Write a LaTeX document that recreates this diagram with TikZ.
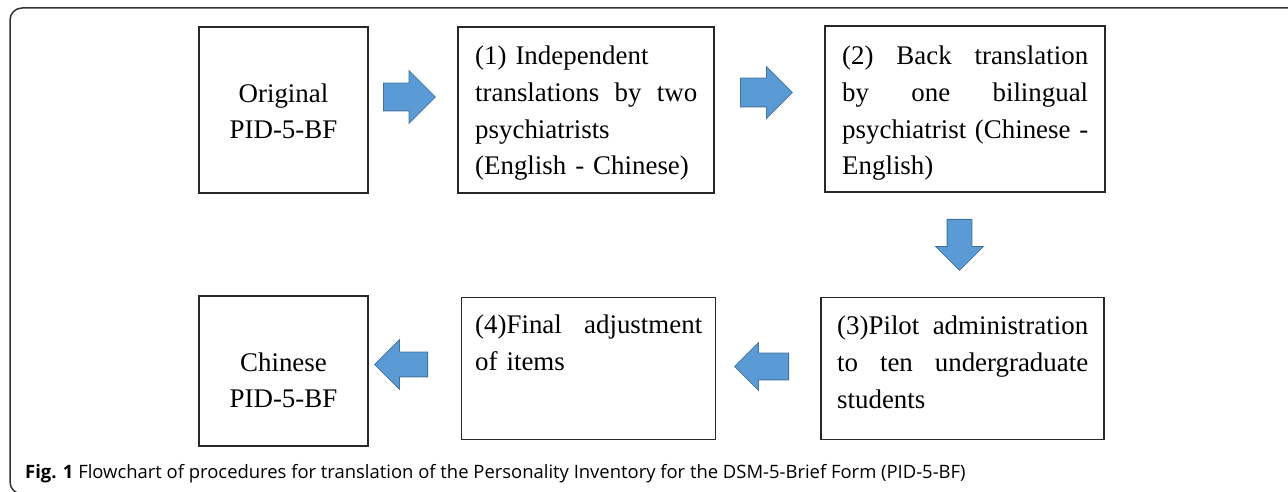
\documentclass[tikz,border=0pt]{standalone}
\usepackage{fontspec}
\setmainfont{Liberation Serif}
\newfontfamily\capfont{Open Sans}
\usetikzlibrary{shapes.arrows}
\definecolor{arrowfill}{RGB}{91,155,213}
\definecolor{arrowline}{RGB}{65,113,156}
\definecolor{boxline}{RGB}{40,40,40}
\definecolor{frameline}{RGB}{50,50,50}
\tikzset{
  box/.style={draw=boxline, line width=1.3bp, inner sep=0pt, rectangle},
  txt/.style={inner sep=0pt, font=\fontsize{27}{36.8}\selectfont, align=left},
  ctxt/.style={inner sep=0pt, font=\fontsize{27}{35.5}\selectfont, align=center, text width=169bp},
  barrow/.style={shape=single arrow, draw=arrowline, fill=arrowfill, line width=0.8bp, inner xsep=0pt, single arrow head indent=0pt, anchor=tail}
}
\tikzset{frame/.style={draw=frameline, line width=1.5bp, rounded corners=12bp}}
\newcommand{\jl}[2]{{\spaceskip=0pt\xspaceskip=0pt\makebox[#1][s]{#2}}}
\begin{document}
\begin{tikzpicture}[x=1bp,y=-1bp]
\useasboundingbox (0,0) rectangle (1288,492);
\clip (0,0) rectangle (1288,492);
\coordinate (fa) at (1300,8);
\coordinate (fb) at (10,8);
\coordinate (fc) at (10,494);
\coordinate (fd) at (1300,494);
\draw[frame] (fa) -- (fb) -- (fc) -- (fd);

% boxes
\node[box, minimum width=169bp, minimum height=166bp] (orig) at (283.5,110) {};
\node[box, minimum width=256bp, minimum height=166bp] (s1) at (586,110) {};
\node[box, minimum width=280bp, minimum height=166bp] (s2) at (965,109) {};
\node[box, minimum width=283bp, minimum height=142bp] (s3) at (962.5,368.5) {};
\node[box, minimum width=254bp, minimum height=142bp] (s4) at (588.5,368.5) {};
\node[box, minimum width=169bp, minimum height=150bp] (chin) at (283.5,371) {};

% texts
\node[ctxt, anchor=base] (torig) at (283.5,103) {Original\\PID-5-BF};
\node[txt, anchor=base west, text width=222bp] (ts1) at (475,65)
  {(1) Independent\\\jl{222bp}{translations by two}\\psychiatrists\\(English - Chinese)};
\node[txt, anchor=base west, text width=246bp] (ts2) at (842,65)
  {\jl{246bp}{(2) Back translation}\\\jl{246bp}{by one bilingual}\\\jl{246bp}{psychiatrist (Chinese -}\\English)};
\node[txt, anchor=base west, text width=251bp] (ts3) at (837,335)
  {\jl{251bp}{(3)Pilot administration}\\\jl{251bp}{to ten undergraduate}\\students};
\node[txt, anchor=base west, text width=227bp] (ts4) at (475,334)
  {\jl{227bp}{(4)Final adjustment}\\of items};
\node[ctxt, anchor=base] (tchin) at (283.5,372) {Chinese\\PID-5-BF};

% block arrows (tail placed at the start point)
\node[barrow, minimum height=52bp, inner ysep=13.5bp, single arrow head extend=12.5bp] (a1) at (383,97) {};
\node[barrow, minimum height=52bp, inner ysep=14bp, single arrow head extend=11.5bp] (a2) at (740,92.5) {};
\node[barrow, rotate=-90, minimum height=51bp, inner ysep=12bp, single arrow head extend=11.5bp] (a3) at (959.5,219) {};
\node[barrow, rotate=180, minimum height=54bp, inner ysep=13bp, single arrow head extend=10.5bp] (a4) at (789,366.5) {};
\node[barrow, rotate=180, minimum height=53bp, inner ysep=12bp, single arrow head extend=12.5bp] (a5) at (428,364.5) {};

% caption
\node[anchor=base west, inner sep=0pt, font=\capfont\fontsize{18.5}{22}\selectfont] (cap) at (25,478)
  {\textbf{Fig. 1} Flowchart of procedures for translation of the Personality Inventory for the DSM-5-Brief Form (PID-5-BF)};
\end{tikzpicture}
\end{document}
